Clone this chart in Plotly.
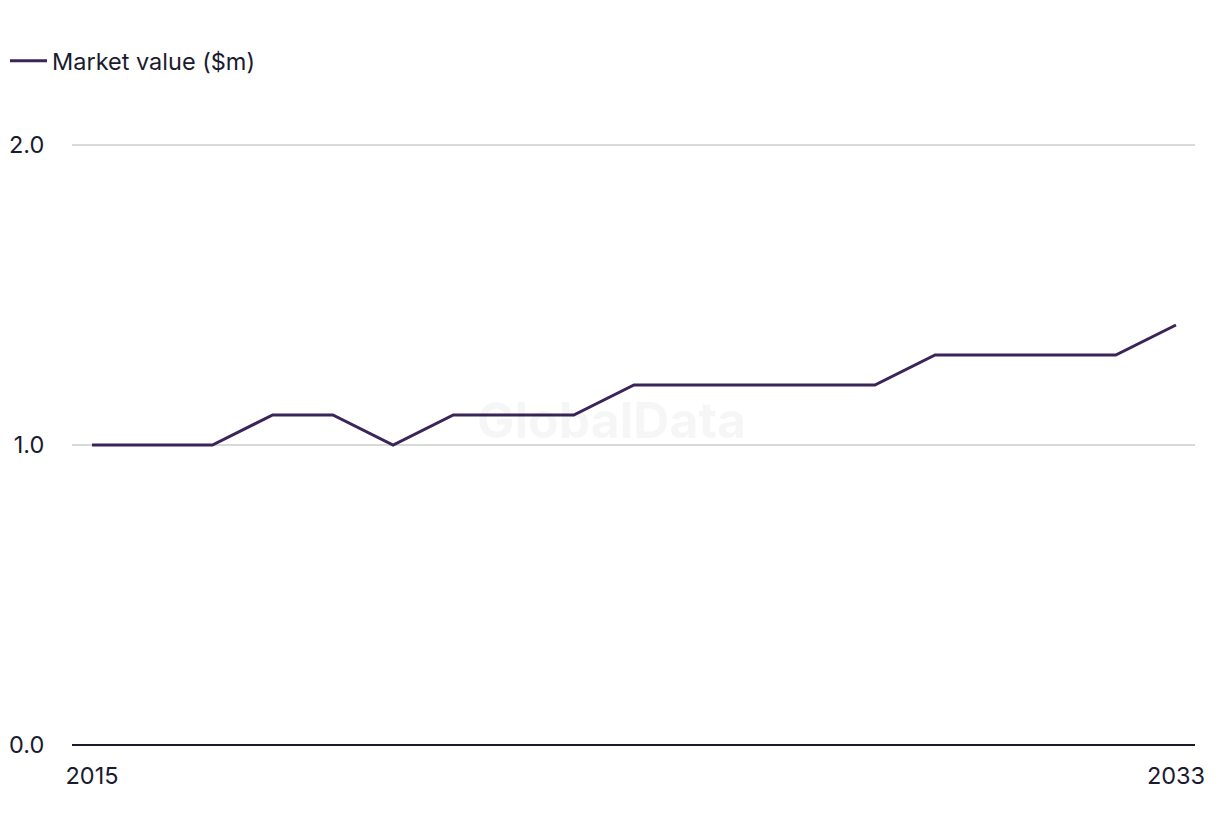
import plotly.graph_objects as go

years = list(range(2015, 2034))
values = [1.0, 1.0, 1.0, 1.1, 1.1, 1.0, 1.1, 1.1, 1.1, 1.2, 1.2, 1.2, 1.2, 1.2, 1.3, 1.3, 1.3, 1.3, 1.4]
series_name = "Market value ($m)"
y_ticks = [0.0, 1.0, 2.0]
x_ticks = [2015, 2033]

FONT = "Inter, Liberation Sans, sans-serif"
TEXT = "#1b1b2f"
LINE = "#3a2458"
FS = 23.5

fig = go.Figure()
fig.add_trace(go.Scatter(
    x=years, y=values, mode="lines", name=series_name,
    line=dict(color=LINE, width=3),
))

fig.update_layout(
    width=1220, height=836,
    margin=dict(l=72, r=25, t=143, b=91),
    paper_bgcolor="white", plot_bgcolor="white",
    font=dict(family=FONT, size=FS, color=TEXT),
    showlegend=True,
    legend=dict(orientation="h", x=5 / 1220, xanchor="left", y=1 - 61 / 836, yanchor="middle",
                xref="container", yref="container",
                font=dict(size=FS, color=TEXT), itemwidth=37,
                bgcolor="rgba(0,0,0,0)"),
    xaxis=dict(range=[2014.668, 2033.316], tickvals=x_ticks,
               ticktext=[str(v) for v in x_ticks],
               showgrid=False, zeroline=False, showline=False,
               ticks="outside", ticklen=10, tickcolor="rgba(0,0,0,0)",
               tickfont=dict(size=FS, color=TEXT), automargin=False),
    yaxis=dict(range=[0, 602 / 300], tickvals=y_ticks,
               ticktext=[f"{v:.1f}" for v in y_ticks],
               showgrid=True, gridcolor="#d9d9d9", gridwidth=1.5,
               zeroline=True, zerolinecolor=TEXT, zerolinewidth=2,
               showline=False, ticks="outside", ticklen=22,
               tickcolor="rgba(0,0,0,0)",
               tickfont=dict(size=FS, color=TEXT), automargin=False),
    annotations=[dict(text="<b>GlobalData</b>", x=(611 - 72) / 1123, y=(745 - 420) / 602,
                      xref="paper", yref="paper", xanchor="center", yanchor="middle",
                      showarrow=False, font=dict(size=50, color="rgba(0,0,0,0.035)", family=FONT))],
)

fig.write_html("out.html")
